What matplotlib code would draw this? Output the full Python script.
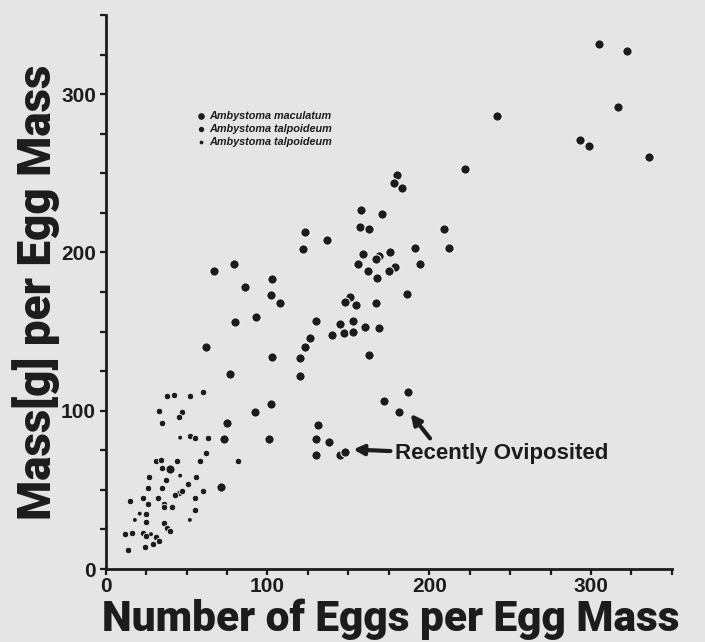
import matplotlib
matplotlib.use("Agg")
import matplotlib.pyplot as plt
from matplotlib.ticker import MultipleLocator, FuncFormatter

# ---- data ----
mac_x = [305, 322, 317, 242, 293, 299, 336, 222,
         180, 178, 183, 158, 171, 123, 157, 163, 209, 137, 122, 191, 212, 159, 169, 176,
         167, 156, 194, 179, 175, 162, 168, 186, 151, 148, 155, 167, 130, 145, 153, 160,
         169, 140, 147, 153, 126, 123,
         67, 79, 86, 103, 102, 108, 80, 93, 62, 103, 120, 77, 120,
         187, 172, 181,
         92, 102, 101, 130, 131, 138, 130, 145, 148, 163,
         75, 73, 40, 71]
mac_y = [332, 327, 292, 286, 271, 267, 260, 253,
         249, 244, 241, 227, 224, 213, 216, 215, 215, 208, 202, 203, 203, 199, 198, 200,
         196, 193, 193, 191, 188, 188, 184, 174, 172, 169, 167, 168, 157, 155, 157, 153,
         152, 148, 149, 150, 146, 140,
         188, 193, 178, 183, 173, 168, 156, 159, 140, 134, 133, 123, 122,
         112, 106, 99,
         99, 104, 82, 82, 91, 80, 72, 72, 74, 135,
         92, 82, 63, 52]

tal_x = [38, 42, 52, 60, 33, 47, 45, 35, 52, 55, 63, 62, 82, 58, 31, 34, 35, 44, 27, 56,
         37, 51, 26, 35, 60, 45, 47, 43, 23, 32, 55, 15, 26, 36, 36, 41, 55, 25, 25, 36,
         38, 40, 12, 16, 23, 25, 31, 33, 29, 24, 14]
tal_y = [109, 110, 109, 112, 100, 99, 96, 92, 84, 83, 83, 73, 68, 68, 68, 69, 64, 68, 58, 58,
         56, 54, 51, 51, 49, 48, 49, 47, 45, 45, 45, 43, 41, 41, 39, 39, 37, 35, 30, 29,
         26, 24, 22, 23, 23, 21, 20, 18, 16, 14, 12]

tal2_x = [46, 46, 21, 18, 52, 28]
tal2_y = [83, 59, 35, 31, 31, 22]

legend_labels = ["Ambystoma maculatum", "Ambystoma talpoideum", "Ambystoma talpoideum"]
x_label = "Number of Eggs per Egg Mass"
y_label = "Mass[g] per Egg Mass"
note = "Recently Oviposited"

BG = "#e5e5e5"
INK = "#1c1c1c"

fig = plt.figure(figsize=(7.05, 6.42), dpi=100, facecolor=BG)
ax = fig.add_axes([0.150, 0.1137, 0.803, 0.8629])
ax.set_facecolor(BG)

ax.scatter(mac_x, mac_y, s=46, c=INK, edgecolors="#f4f4f4", linewidths=0.8, zorder=3)
ax.scatter(tal_x, tal_y, s=22, c=INK, edgecolors="#f4f4f4", linewidths=0.6, zorder=3)
ax.scatter(tal2_x, tal2_y, s=8, c=INK, edgecolors="none", zorder=3)

ax.set_xlim(0, 350)
ax.set_ylim(0, 350)
for s in ["top", "right"]:
    ax.spines[s].set_visible(False)
for s in ["left", "bottom"]:
    ax.spines[s].set_linewidth(2.0)
    ax.spines[s].set_color(INK)

ax.xaxis.set_major_locator(MultipleLocator(25))
ax.yaxis.set_major_locator(MultipleLocator(25))
fmt = FuncFormatter(lambda v, p: f"{int(v)}" if int(round(v)) % 100 == 0 and v < 349 else "")
ax.xaxis.set_major_formatter(fmt)
ax.yaxis.set_major_formatter(fmt)
ax.tick_params(axis="both", direction="out", length=4, width=1.6, color=INK,
               labelcolor=INK, pad=3)
ax.tick_params(axis="x", pad=2)
for lab in ax.get_xticklabels() + ax.get_yticklabels():
    lab.set_fontfamily("Liberation Sans")
    lab.set_fontweight("bold")
    lab.set_fontsize(15)

# legend drawn manually
leg_sizes = [14, 8, 3]
leg_rows = [286.5, 278, 269.5]
for lab, sz, yy in zip(legend_labels, leg_sizes, leg_rows):
    ax.scatter([59], [yy], s=sz, c=INK, zorder=3)
    ax.text(64, yy, lab, fontsize=7.8, fontstyle="italic", fontweight="bold",
            family="Liberation Sans", va="center", ha="left", color=INK)

# annotation
ax.text(179, 73, note, fontsize=16, fontweight="bold", family="Liberation Sans",
        va="center", ha="left", color=INK)
ax.annotate("", xy=(153, 75.5), xytext=(176, 74.5),
            arrowprops=dict(arrowstyle="-|>", lw=3.0, color=INK, mutation_scale=15,
                            shrinkA=0, shrinkB=0))
ax.annotate("", xy=(188.5, 98), xytext=(200.5, 82.5),
            arrowprops=dict(arrowstyle="-|>", lw=3.0, color=INK, mutation_scale=15,
                            shrinkA=0, shrinkB=0))

fig.text(391 / 705, 1 - 631 / 642, x_label, fontsize=30.5, fontweight="black",
         family=["Roboto", "Liberation Sans"], ha="center", va="baseline", color=INK)
fig.text(36 / 705, 1 - 292 / 642, y_label, fontsize=33, fontweight="black",
         family=["Roboto", "Liberation Sans"], ha="center", va="center",
         rotation=90, color=INK)

fig.savefig("out.png", dpi=100, facecolor=BG)
